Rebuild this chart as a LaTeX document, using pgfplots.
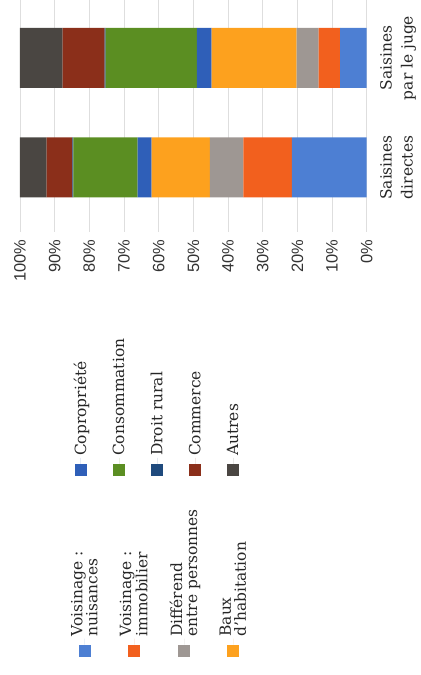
\documentclass[border=0pt]{standalone}
\usepackage{fontspec}
\setmainfont{DejaVu Serif}
\newfontfamily\ticksans{Liberation Sans}
\usepackage{pgfplots}
\pgfplotsset{compat=1.18}

\definecolor{cNuis}{HTML}{4D7FD3}
\definecolor{cImmo}{HTML}{F2601E}
\definecolor{cDiff}{HTML}{9E9793}
\definecolor{cBaux}{HTML}{FDA11E}
\definecolor{cCopro}{HTML}{2F5FB8}
\definecolor{cConso}{HTML}{5B8E22}
\definecolor{cRural}{HTML}{1F4A7D}
\definecolor{cComm}{HTML}{8B2F1A}
\definecolor{cAutres}{HTML}{4A4642}

\pgfplotsset{
  sqlegend/.style={
    legend image code/.code={\fill[##1] (0bp,-6bp) rectangle (12bp,6bp); \path (12bp,0) -- (18bp,0);},
  },
}

\begin{document}
\begin{tikzpicture}
\path[use as bounding box] (0,0) rectangle (421bp,675bp);
% chart is printed turned a quarter turn: bars run right to left
\begin{axis}[
  at={(20bp,443bp)}, anchor=south west,
  scale only axis, width=346.7bp, height=232bp,
  xbar stacked, bar width=60bp,
  xmin=0, xmax=100, x dir=reverse,
  ymin=-0.59, ymax=1.53,
  axis line style={draw=none},
  major tick length=0pt,
  xtick={0,10,...,100},
  xticklabels={0\%,10\%,20\%,30\%,40\%,50\%,60\%,70\%,80\%,90\%,100\%},
  xmajorgrids, grid style={draw=black!13, line width=0.8pt},
  xticklabel style={rotate=90, anchor=east, font=\ticksans\fontsize{16.5}{16.5}\selectfont, text=black!80},
  xticklabel shift=4bp,
  ytick={0,1},
  yticklabels={{Saisines\\directes},{Saisines\\par le juge}},
  yticklabel pos=right,
  yticklabel style={rotate=90, anchor=north, align=center, font=\fontsize{15.5}{21}\selectfont, text=black!85},
  yticklabel shift=10bp,
]
\addplot[fill=cNuis, draw=none] coordinates {(21.6,0) (7.7,1)};
\addplot[fill=cImmo, draw=none] coordinates {(14.0,0) (6.2,1)};
\addplot[fill=cDiff, draw=none] coordinates {(9.6,0) (6.3,1)};
\addplot[fill=cBaux, draw=none] coordinates {(16.8,0) (24.5,1)};
\addplot[fill=cCopro, draw=none] coordinates {(4.1,0) (4.3,1)};
\addplot[fill=cConso, draw=none] coordinates {(18.5,0) (26.3,1)};
\addplot[fill=cRural, draw=none] coordinates {(0.3,0) (0.3,1)};
\addplot[fill=cComm, draw=none] coordinates {(7.4,0) (12.1,1)};
\addplot[fill=cAutres, draw=none] coordinates {(7.7,0) (12.3,1)};
\end{axis}
% legend, turned with the page
\begin{scope}[transform canvas={xshift=421bp, rotate=90}]
\begin{axis}[
  at={(0,0)}, anchor=south west,
  scale only axis, width=675bp, height=421bp,
  hide axis, xmin=0, xmax=1, ymin=0, ymax=1,
  sqlegend,
  legend style={at={(0.0271,0.6219)}, anchor=west, draw=none, fill=none, inner sep=0pt,
    font=\fontsize{15.5}{15}\selectfont, text=black!85, row sep=17bp,
    cells={anchor=west, align=left, inner sep=3bp}},
]
\addlegendimage{fill=cNuis, draw=none}
\addlegendimage{fill=cImmo, draw=none}
\addlegendimage{fill=cDiff, draw=none}
\addlegendimage{fill=cBaux, draw=none}
\legend{{Voisinage~:\\nuisances},{Voisinage~:\\immobilier},{Différend\\entre personnes},{Baux\\d’habitation}}
\end{axis}
\begin{axis}[
  at={(0,0)}, anchor=south west,
  scale only axis, width=675bp, height=421bp,
  hide axis, xmin=0, xmax=1, ymin=0, ymax=1,
  sqlegend,
  legend style={at={(0.2948,0.6278)}, anchor=west, draw=none, fill=none, inner sep=0pt,
    font=\fontsize{15.5}{15}\selectfont, text=black!85, row sep=21bp,
    cells={anchor=west, inner sep=3bp}},
]
\addlegendimage{fill=cCopro, draw=none}
\addlegendimage{fill=cConso, draw=none}
\addlegendimage{fill=cRural, draw=none}
\addlegendimage{fill=cComm, draw=none}
\addlegendimage{fill=cAutres, draw=none}
\legend{Copropriété,Consommation,Droit rural,Commerce,Autres}
\end{axis}
\end{scope}
\end{tikzpicture}
\end{document}
